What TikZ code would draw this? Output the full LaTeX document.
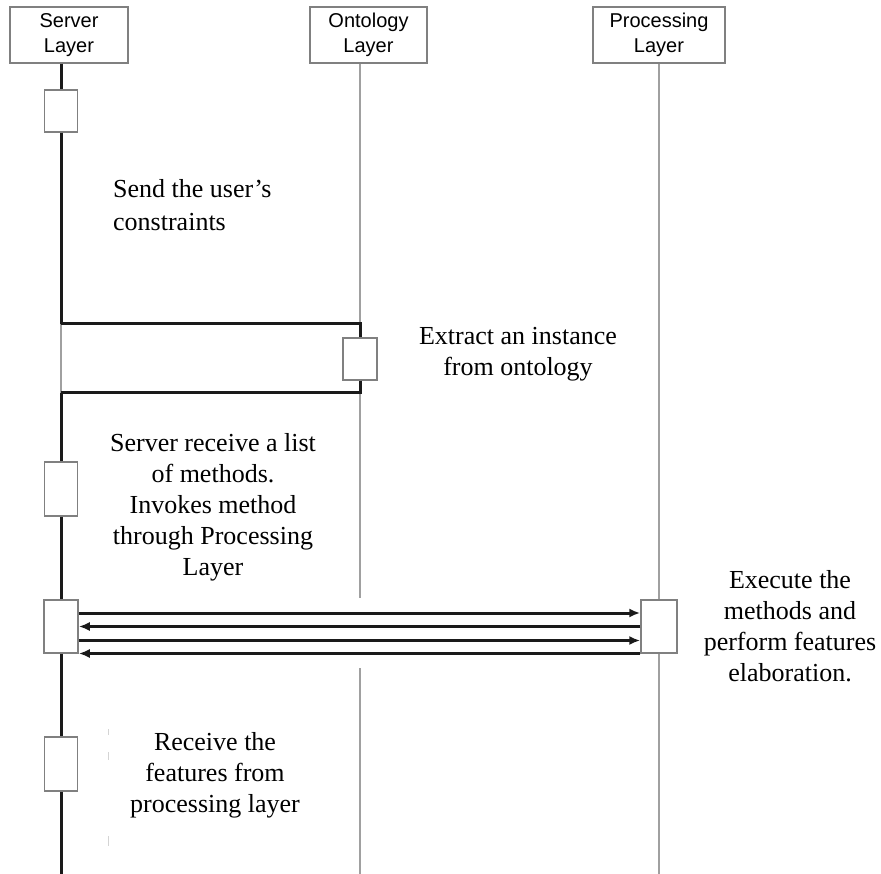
\documentclass[tikz,border=0pt]{standalone}
\usepackage{fontspec}
\setmainfont{Liberation Serif}
\newfontfamily\headfont{Liberation Sans}
\usetikzlibrary{arrows.meta}

\definecolor{boxgray}{HTML}{808080}
\definecolor{lifegray}{HTML}{A0A0A0}
\definecolor{ink}{HTML}{1A1A1A}

\begin{document}
\begin{tikzpicture}[x=1pt,y=-1pt,
  header/.style={draw=boxgray, line width=1.5pt, fill=white, inner sep=0pt,
    minimum height=56pt, align=center,
    font=\headfont\fontsize{20}{25}\selectfont},
  actbox/.style={draw=boxgray, line width=1.5pt, fill=white, inner sep=0pt,
    minimum width=33pt},
  mainline/.style={draw=ink, line width=3pt},
  thinline/.style={draw=lifegray, line width=2.2pt},
  msg/.style={draw=ink, line width=3pt, -{Latex[length=11pt,width=9pt]}},
  note/.style={inner sep=0pt, font=\fontsize{26}{31}\selectfont}
]
\useasboundingbox (0,0) rectangle (881,874);

% lifeline heads
\node[header, minimum width=118pt] (srv) at (69,35) {Server\\Layer};
\node[header, minimum width=117pt] (ont) at (368.5,35) {Ontology\\Layer};
\node[header, minimum width=132pt] (prc) at (659,35) {Processing\\Layer};

% activation boxes
\node[actbox, minimum height=42pt] (s1) at (61,111) {};
\node[actbox, minimum height=54pt] (s2) at (61,489) {};
\node[actbox, minimum height=53pt, minimum width=34pt] (s3) at (61,626.5) {};
\node[actbox, minimum height=54pt] (s4) at (61,764) {};
\node[actbox, minimum height=42pt, minimum width=34pt] (o1) at (360,359) {};
\node[actbox, minimum height=53pt, minimum width=36pt] (p1) at (659,626.5) {};

% turning points of the request to the ontology layer
\coordinate (reqS) at (61,324);
\coordinate (reqO) at (360,324);
\coordinate (retO) at (360,393);
\coordinate (retS) at (61,393);
\coordinate (ontGapTop) at (360,598);
\coordinate (ontGapBot) at (360,668);
\coordinate (ontEnd) at (360,874);
\coordinate (srvEnd) at (61,874);
\coordinate (prcEnd) at (659,874);

% ontology and processing lifelines
\draw[thinline] (ont.south -| reqO) -- (reqO);
\draw[thinline] (retO) -- (ontGapTop);
\draw[thinline] (ontGapBot) -- (ontEnd);
\draw[thinline] (prc.south) -- (p1.north);
\draw[thinline] (p1.south) -- (prcEnd);
\draw[thinline] (reqS) -- (retS);

% server lifeline
\draw[mainline] (srv.south -| s1.north) -- (s1.north);
\draw[mainline] (s1.south) -- (reqS);
\draw[mainline] (reqS) -- (reqO) -- (o1.north);
\draw[mainline] (o1.south) -- (retO) -- (retS);
\draw[mainline] (retS) -- (s2.north);
\draw[mainline] (s2.south) -- (s3.north);
\draw[mainline] (s3.south) -- (s4.north);
\draw[mainline] (s4.south) -- (srvEnd);

% method calls and replies
\draw[msg] ([yshift=13.5pt]s3.east) -- ([yshift=13.5pt]p1.west);
\draw[msg] (p1.west) -- (s3.east);
\draw[msg] ([yshift=-14pt]s3.east) -- ([yshift=-14pt]p1.west);
\draw[msg] ([yshift=-27pt]p1.west) -- ([yshift=-27pt]s3.east);

% faint marks left of the last note
\draw[lifegray!45, line width=1pt] (108,729) -- (108,735);
\draw[lifegray!45, line width=1pt] (108,752) -- (108,760);
\draw[lifegray!45, line width=1pt] (108,836) -- (108,846);

% notes
\node[note, align=left, anchor=west, font=\fontsize{26}{33}\selectfont] (n1) at (113,205) {Send the user’s\\constraints};
\node[note, align=center] (n2) at (518,354) {Extract an instance\\from ontology};
\node[note, align=center] (n3) at (213,507) {Server receive a list\\of methods.\\Invokes method\\through Processing\\Layer};
\node[note, align=center] (n4) at (790,626) {Execute the\\methods and\\perform features\\elaboration.};
\node[note, align=center] (n5) at (215,775) {Receive the\\features from\\processing layer};
\end{tikzpicture}
\end{document}
